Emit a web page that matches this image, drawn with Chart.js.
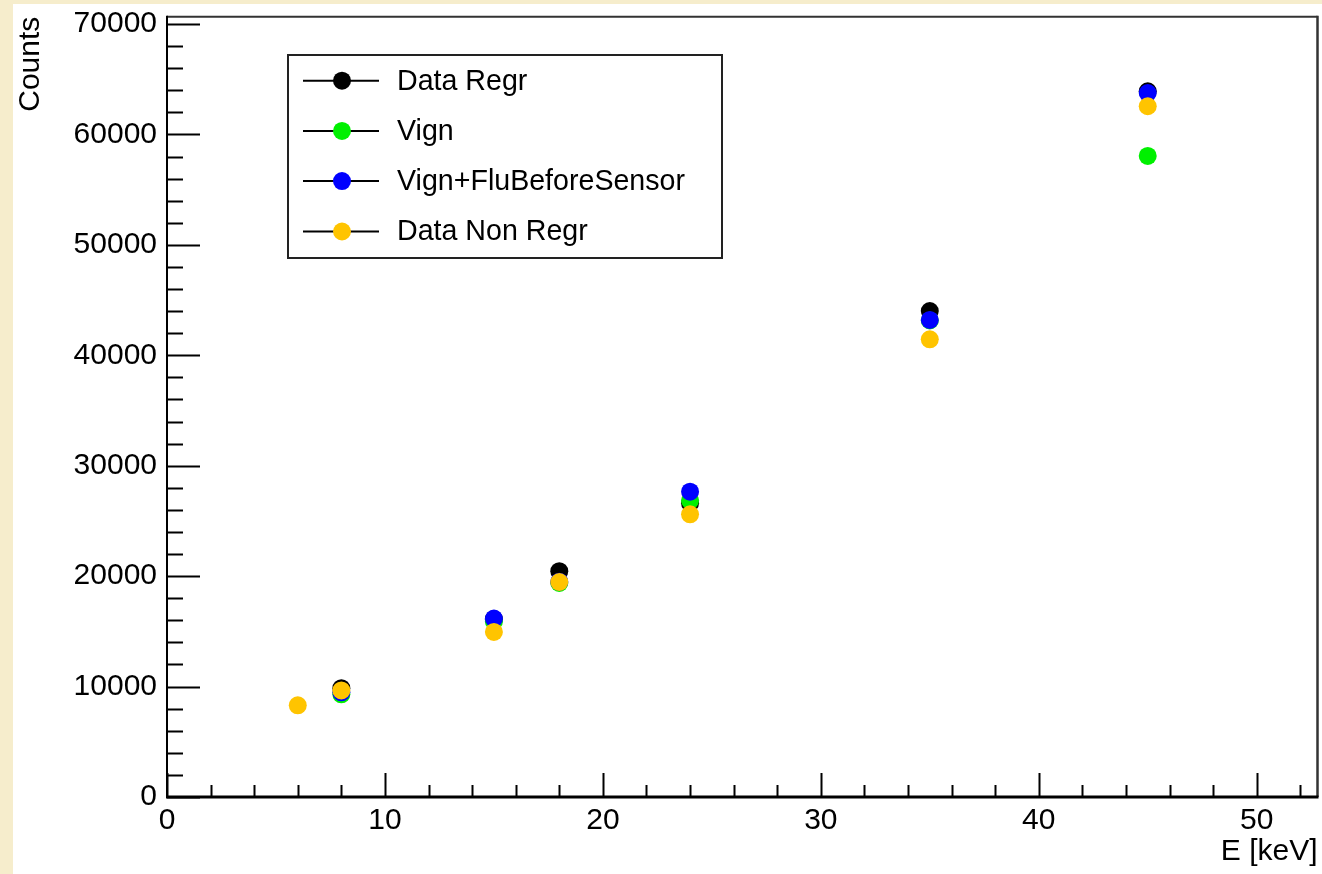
<!DOCTYPE html>
<html>
<head>
<meta charset="utf-8">
<script src="https://cdn.jsdelivr.net/npm/chart.js@4"></script>
<style>
  html, body { margin: 0; padding: 0; background: #f6edcc; overflow: hidden; }
  #wrap { width: 1322px; height: 874px; }
  canvas { display: block; }
</style>
</head>
<body>
<div id="wrap"><canvas id="c" width="1322" height="874"></canvas></div>
<script>
// ---- data ----
const seriesLabels = ['Data Regr', 'Vign', 'Vign+FluBeforeSensor', 'Data Non Regr'];
const seriesColors = ['#000000', '#00f000', '#0000ff', '#ffc400'];

const dataRegrE      = [8, 15, 18, 24, 35, 45];
const dataRegrCounts = [9850, 16100, 20450, 26600, 44000, 63900];

const vignE      = [8, 15, 18, 24, 35, 45];
const vignCounts = [9300, 15900, 19380, 26850, 43150, 58050];

const vignFluE      = [8, 15, 18, 24, 35, 45];
const vignFluCounts = [9480, 16160, 19500, 27650, 43200, 63750];

const nonRegrE      = [6, 8, 15, 18, 24, 35, 45];
const nonRegrCounts = [8300, 9650, 14950, 19470, 25600, 41450, 62550];

const xTicks = [0, 10, 20, 30, 40, 50];
const yTicks = [0, 10000, 20000, 30000, 40000, 50000, 60000, 70000];
const xMinorStep = 2;
const yMinorStep = 2000;
const xRange = [0, 52.79];
const yRange = [0, 70660];

const xTitle = 'E [keV]';
const yTitle = 'Counts';

function pts(xs, ys) { return xs.map((x, i) => ({ x: x, y: ys[i] })); }
const seriesPoints = [
  pts(dataRegrE, dataRegrCounts),
  pts(vignE, vignCounts),
  pts(vignFluE, vignFluCounts),
  pts(nonRegrE, nonRegrCounts)
];

const FONT = '"Liberation Sans", Arial, Helvetica, sans-serif';

const rootPlugin = {
  id: 'rootStyle',
  beforeDraw(chart) {
    const ctx = chart.ctx;
    ctx.save();
    ctx.fillStyle = '#f6edcc';
    ctx.fillRect(0, 0, chart.width, chart.height);
    ctx.fillStyle = '#ffffff';
    ctx.fillRect(13, 4, chart.width - 13, chart.height - 4);
    ctx.restore();
  },
  beforeDatasetsDraw(chart) {
    const ctx = chart.ctx;
    const a = chart.chartArea;
    const xs = chart.scales.x, ys = chart.scales.y;
    ctx.save();
    // frame top and right
    ctx.strokeStyle = '#333333';
    ctx.lineWidth = 2;
    ctx.beginPath();
    ctx.moveTo(a.left, a.top); ctx.lineTo(a.right, a.top);
    ctx.stroke();
    ctx.lineWidth = 2.5;
    ctx.beginPath();
    ctx.moveTo(a.right, a.top - 1); ctx.lineTo(a.right, a.bottom);
    ctx.stroke();
    // axes
    ctx.strokeStyle = '#000000';
    ctx.lineWidth = 2;
    ctx.beginPath();
    ctx.moveTo(a.left, a.top - 1); ctx.lineTo(a.left, a.bottom);
    ctx.stroke();
    ctx.lineWidth = 3;
    ctx.beginPath();
    ctx.moveTo(a.left - 1, a.bottom); ctx.lineTo(a.right + 1, a.bottom);
    ctx.stroke();
    // y ticks
    ctx.lineWidth = 2;
    ctx.beginPath();
    for (let v = yRange[0]; v <= yRange[1] + 1e-6; v += yMinorStep) {
      const p = Math.round(ys.getPixelForValue(v)) + 0.5;
      const major = yTicks.indexOf(v) >= 0;
      const len = major ? 33 : 16;
      ctx.moveTo(a.left, p); ctx.lineTo(a.left + len, p);
    }
    // x ticks
    for (let v = xRange[0]; v <= xRange[1] + 1e-6; v += xMinorStep) {
      const p = Math.round(xs.getPixelForValue(v)) + 0.5;
      const major = xTicks.indexOf(v) >= 0;
      const len = major ? 24 : 12;
      ctx.moveTo(p, a.bottom); ctx.lineTo(p, a.bottom - len);
    }
    ctx.stroke();
    ctx.restore();
  },
  afterDraw(chart) {
    const ctx = chart.ctx;
    ctx.save();
    // legend box
    const bx = 288, by = 55, bw = 434, bh = 203;
    ctx.fillStyle = '#ffffff';
    ctx.fillRect(bx, by, bw, bh);
    ctx.strokeStyle = '#222222';
    ctx.lineWidth = 2;
    ctx.strokeRect(bx, by, bw, bh);
    const rowY = [80.7, 130.9, 181.1, 231.5];
    chart.data.datasets.forEach((ds, i) => {
      const y = rowY[i];
      ctx.strokeStyle = '#000000';
      ctx.lineWidth = 2;
      ctx.beginPath();
      ctx.moveTo(303, y); ctx.lineTo(379, y);
      ctx.stroke();
      ctx.fillStyle = ds.backgroundColor;
      ctx.beginPath();
      ctx.arc(342, y, 9, 0, Math.PI * 2);
      ctx.fill();
      ctx.fillStyle = '#000000';
      ctx.font = '28.6px ' + FONT;
      ctx.textAlign = 'left';
      ctx.textBaseline = 'middle';
      ctx.fillText(ds.label, 397, y + 1);
    });
    ctx.restore();
  }
};

const datasets = seriesLabels.map((lab, i) => ({
  label: lab,
  data: seriesPoints[i],
  backgroundColor: seriesColors[i],
  borderColor: seriesColors[i],
  borderWidth: 0,
  pointRadius: 9,
  pointHoverRadius: 9,
  showLine: false,
  order: seriesLabels.length - 1 - i
}));

new Chart(document.getElementById('c'), {
  type: 'scatter',
  data: { datasets: datasets },
  options: {
    responsive: false,
    animation: false,
    devicePixelRatio: 1,
    layout: { autoPadding: false, padding: { left: 13, top: 16.7, right: 4.5, bottom: 0 } },
    plugins: { legend: { display: false }, tooltip: { enabled: false } },
    scales: {
      x: {
        type: 'linear',
        min: xRange[0], max: xRange[1],
        grid: { display: false, drawTicks: false },
        border: { display: false },
        afterBuildTicks: s => { s.ticks = xTicks.map(v => ({ value: v })); },
        afterFit: s => { s.height = 77; s.paddingLeft = 0; s.paddingRight = 0; },
        ticks: {
          padding: 6,
          maxRotation: 0,
          autoSkip: false,
          color: '#000000',
          font: { family: FONT, size: 30 },
          callback: v => String(v)
        },
        title: {
          display: true,
          text: xTitle,
          align: 'end',
          color: '#000000',
          font: { family: FONT, size: 30 },
          padding: { top: 0, bottom: 4 }
        }
      },
      y: {
        type: 'linear',
        min: yRange[0], max: yRange[1],
        grid: { display: false, drawTicks: false },
        border: { display: false },
        afterBuildTicks: s => { s.ticks = yTicks.map(v => ({ value: v })); },
        afterFit: s => { s.width = 154; s.paddingTop = 0; s.paddingBottom = 0; },
        ticks: {
          padding: 10,
          autoSkip: false,
          color: '#000000',
          font: { family: FONT, size: 30 },
          callback: v => String(v)
        },
        title: {
          display: true,
          text: yTitle,
          align: 'end',
          color: '#000000',
          font: { family: FONT, size: 30 },
          padding: { top: 0, bottom: 0 }
        }
      }
    }
  },
  plugins: [rootPlugin]
});
</script>
</body>
</html>
